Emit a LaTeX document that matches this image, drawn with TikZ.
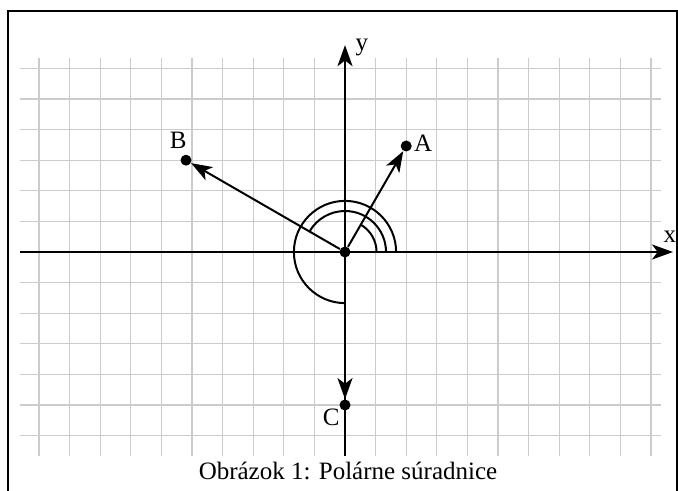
\documentclass[tikz,border=0pt]{standalone}
\usepackage{fontspec}
\setmainfont{Liberation Serif}
\usetikzlibrary{arrows.meta}
\begin{document}
\begin{tikzpicture}[x=0.5pt,y=-0.5pt,
  gridline/.style={draw=black!20,line width=0.6pt},
  axis/.style={line width=1pt,-{Stealth[length=10.5pt,width=7.5pt,inset=2.8pt]}},
  vec/.style={line width=1pt,-{Stealth[length=10.5pt,width=7.5pt,inset=2.8pt]}},
  pt/.style={circle,fill=black,inner sep=0pt,minimum size=5.5pt},
  lbl/.style={font=\fontsize{12.5}{14}\selectfont,inner sep=1pt},
  arcline/.style={line width=1pt}]
\useasboundingbox (0,0) rectangle (678,491);
\draw[line width=0.8pt] (8,492) -- (8,11) -- (677,11) -- (677,492);
\begin{scope}[shift={(345,252)},x=15.3pt,y=15.3pt]
  \foreach \i in {-10,...,10} \draw[gridline] (\i,-6.67) -- (\i,6.34);
  \foreach \j in {-6,...,6} \draw[gridline] (-10.62,\j) -- (10.33,\j);
  \coordinate (O) at (0,0);
  \coordinate (xs) at (-10.62,0);
  \coordinate (xe) at (10.72,0);
  \coordinate (ys) at (0,-6.67);
  \coordinate (ye) at (0,6.76);
  \draw[axis] (xs) -- (xe);
  \draw[axis] (ys) -- (ye);
  \node[lbl] (xl) at (10.62,0.5) {x};
  \node[lbl] (yl) at (0.55,6.68) {y};
  \node[pt] (O') at (O) {};
  \node[pt] (A) at (60:4) {};
  \node[pt] (B) at (150:6) {};
  \node[pt] (C) at (270:5) {};
  \node[lbl] (Al) at (2.55,3.57) {A};
  \node[lbl] (Bl) at (-5.45,3.65) {B};
  \node[lbl] (Cl) at (-0.45,-5.4) {C};
  \draw[vec] (O') -- (A);
  \draw[vec] (O') -- (B);
  \draw[vec] (O') -- (C);
  \draw[arcline] (1.03,0) arc[start angle=0,end angle=60,radius=1.03];
  \draw[arcline] (1.34,0) arc[start angle=0,end angle=150,radius=1.34];
  \draw[arcline] (1.67,0) arc[start angle=0,end angle=270,radius=1.67];
\end{scope}
\node[lbl,anchor=base] (cap) at (348,479) {Obrázok 1: Polárne súradnice};
\end{tikzpicture}
\end{document}
